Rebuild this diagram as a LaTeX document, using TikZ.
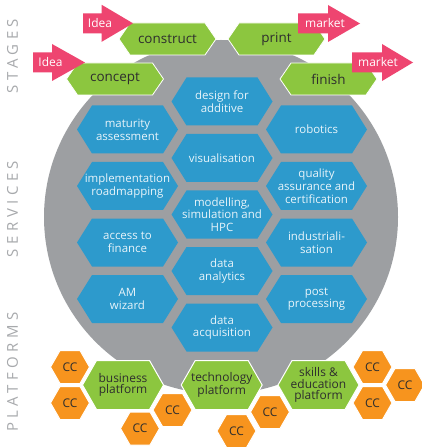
\documentclass[tikz,border=0pt]{standalone}
\usepackage{fontspec}
\setmainfont{Open Sans}
\newfontfamily\sidefont[LetterSpace=30]{Open Sans}
\definecolor{circgray}{HTML}{9D9FA2}
\definecolor{hexblue}{HTML}{2D9ACC}
\definecolor{bluetext}{HTML}{E8F4FA}
\definecolor{hexgreen}{HTML}{8CC63F}
\definecolor{hexorange}{HTML}{F7941E}
\definecolor{pinkred}{HTML}{EE4570}
\definecolor{darktext}{HTML}{2E2E2E}
\definecolor{sidegray}{HTML}{A7A9AC}
\tikzset{
  bluehex/.style={fill=hexblue},
  bluetxt/.style={text=bluetext, font=\fontsize{11.5}{12.8}\selectfont, align=center, inner sep=0pt},
  stagehex/.style={fill=hexgreen, draw=white, line width=0.8bp},
  stagetxt/.style={text=darktext, font=\fontsize{13.5}{14}\selectfont, align=center, inner sep=0pt},
  plathex/.style={fill=hexgreen, draw=white, line width=1bp},
  plattxt/.style={text=darktext, font=\fontsize{12}{11.6}\selectfont, align=center, inner sep=0pt},
  cchex/.style={fill=hexorange, draw=white, line width=1bp},
  cctxt/.style={text=darktext, font=\fontsize{12}{12}\selectfont, inner sep=0pt},
  pinkarr/.style={fill=pinkred},
  arrtxt/.style={text=white, font=\fontsize{12}{12}\selectfont, inner sep=0pt},
  sidelabel/.style={text=sidegray, font=\fontsize{15}{15}\sidefont, rotate=90, inner sep=0pt}
}
% #1 style prefix, #2 name, #3 cx, #4 cy, #5 half width, #6 half height, #7 tip, #8 text
\newcommand\hexnode[8]{%
  \path[#1hex] ({#3-#5},{#4}) -- ({#3-#5+#7},{#4-#6}) -- ({#3+#5-#7},{#4-#6})
    -- ({#3+#5},{#4}) -- ({#3+#5-#7},{#4+#6}) -- ({#3-#5+#7},{#4+#6}) -- cycle;
  \node[#1txt] (#2) at (#3,#4) {#8};}
% #1 name, #2 x0, #3 head base, #4 tip, #5 yc, #6 text x, #7 text
\newcommand\pinkarrow[7]{%
  \path[pinkarr] (#2,{#5-10}) -- (#3,{#5-10}) -- (#3,{#5-18.5}) -- (#4,#5)
    -- (#3,{#5+18.5}) -- (#3,{#5+10}) -- (#2,{#5+10}) -- cycle;
  \node[arrtxt] (#1) at (#6,#5) {#7};}
\begin{document}
\begin{tikzpicture}[x=1bp,y=-1bp]
\useasboundingbox (0,0) rectangle (421,447);
\fill[white] (0,0) rectangle (421,447);
% side labels
\node[sidelabel] (lstages) at (12.5,56) {STAGES};
\node[sidelabel] (lservices) at (12.5,209) {SERVICES};
\node[sidelabel] (lplatforms) at (12.5,372) {PLATFORMS};
% gray disc
\fill[circgray] (221,217) circle[radius=177];
% services
\hexnode{blue}{design}{222}{101.5}{50.5}{24}{15}{design for\\additive}
\hexnode{blue}{visual}{222}{158}{50.5}{24}{15}{visualisation}
\hexnode{blue}{model}{222}{214.5}{50.5}{24}{15}{modelling,\\simulation and\\HPC}
\hexnode{blue}{analytics}{222}{271}{50.5}{24}{15}{data\\analytics}
\hexnode{blue}{acquis}{222}{327.5}{50.5}{24}{15}{data\\acquisition}
\hexnode{blue}{maturity}{127.5}{129.5}{50.5}{24}{15}{maturity\\assessment}
\hexnode{blue}{roadmap}{127.5}{186}{50.5}{24}{15}{implementation\\roadmapping}
\hexnode{blue}{finance}{127.5}{242.5}{50.5}{24}{15}{access to\\finance}
\hexnode{blue}{wizard}{127.5}{299}{50.5}{24}{15}{AM\\wizard}
\hexnode{blue}{robotics}{316.5}{129.5}{50.5}{24}{15}{robotics}
\hexnode{blue}{quality}{316.5}{186}{50.5}{24}{15}{quality\\assurance and\\certification}
\hexnode{blue}{industrial}{316.5}{242.5}{50.5}{24}{15}{industriali-\\sation}
\hexnode{blue}{post}{316.5}{299}{50.5}{24}{15}{post\\processing}
% stages
\hexnode{stage}{construct}{167.5}{39}{48.5}{16}{11}{construct}
\hexnode{stage}{print}{276.5}{39}{48.5}{16}{11}{print}
\hexnode{stage}{concept}{115}{79}{48.5}{16}{11}{concept}
\hexnode{stage}{finish}{328.5}{79}{48.5}{16}{11}{finish}
% arrows
\pinkarrow{idea1}{83}{101.7}{133}{23.3}{100}{Idea}
\pinkarrow{market1}{298}{328}{360}{23.5}{325}{market}
\pinkarrow{idea2}{33}{52}{85}{62.5}{50.5}{Idea}
\pinkarrow{market2}{352}{382}{413}{62.5}{378}{market}
% platforms
\hexnode{plat}{business}{123}{385}{40.5}{24.5}{14}{business\\platform}
\hexnode{plat}{technology}{221.7}{385}{40.5}{24.5}{14}{technology\\platform}
\hexnode{plat}{skills}{318.5}{385}{40.5}{24.5}{14}{skills \&\\education\\platform}
% competence centres
\hexnode{cc}{cc1}{70}{367}{19.5}{16.5}{9.5}{CC}
\hexnode{cc}{cc2}{70}{403}{19.5}{16.5}{9.5}{CC}
\hexnode{cc}{cc3}{172.5}{410}{19.5}{16.5}{9.5}{CC}
\hexnode{cc}{cc4}{140}{428.5}{19.5}{16.5}{9.5}{CC}
\hexnode{cc}{cc5}{270}{412}{19.5}{16.5}{9.5}{CC}
\hexnode{cc}{cc6}{236.5}{431}{19.5}{16.5}{9.5}{CC}
\hexnode{cc}{cc7}{372.5}{367}{19.5}{16.5}{9.5}{CC}
\hexnode{cc}{cc8}{372.5}{403}{19.5}{16.5}{9.5}{CC}
\hexnode{cc}{cc9}{405}{385}{19.5}{16.5}{9.5}{CC}
\end{tikzpicture}
\end{document}
